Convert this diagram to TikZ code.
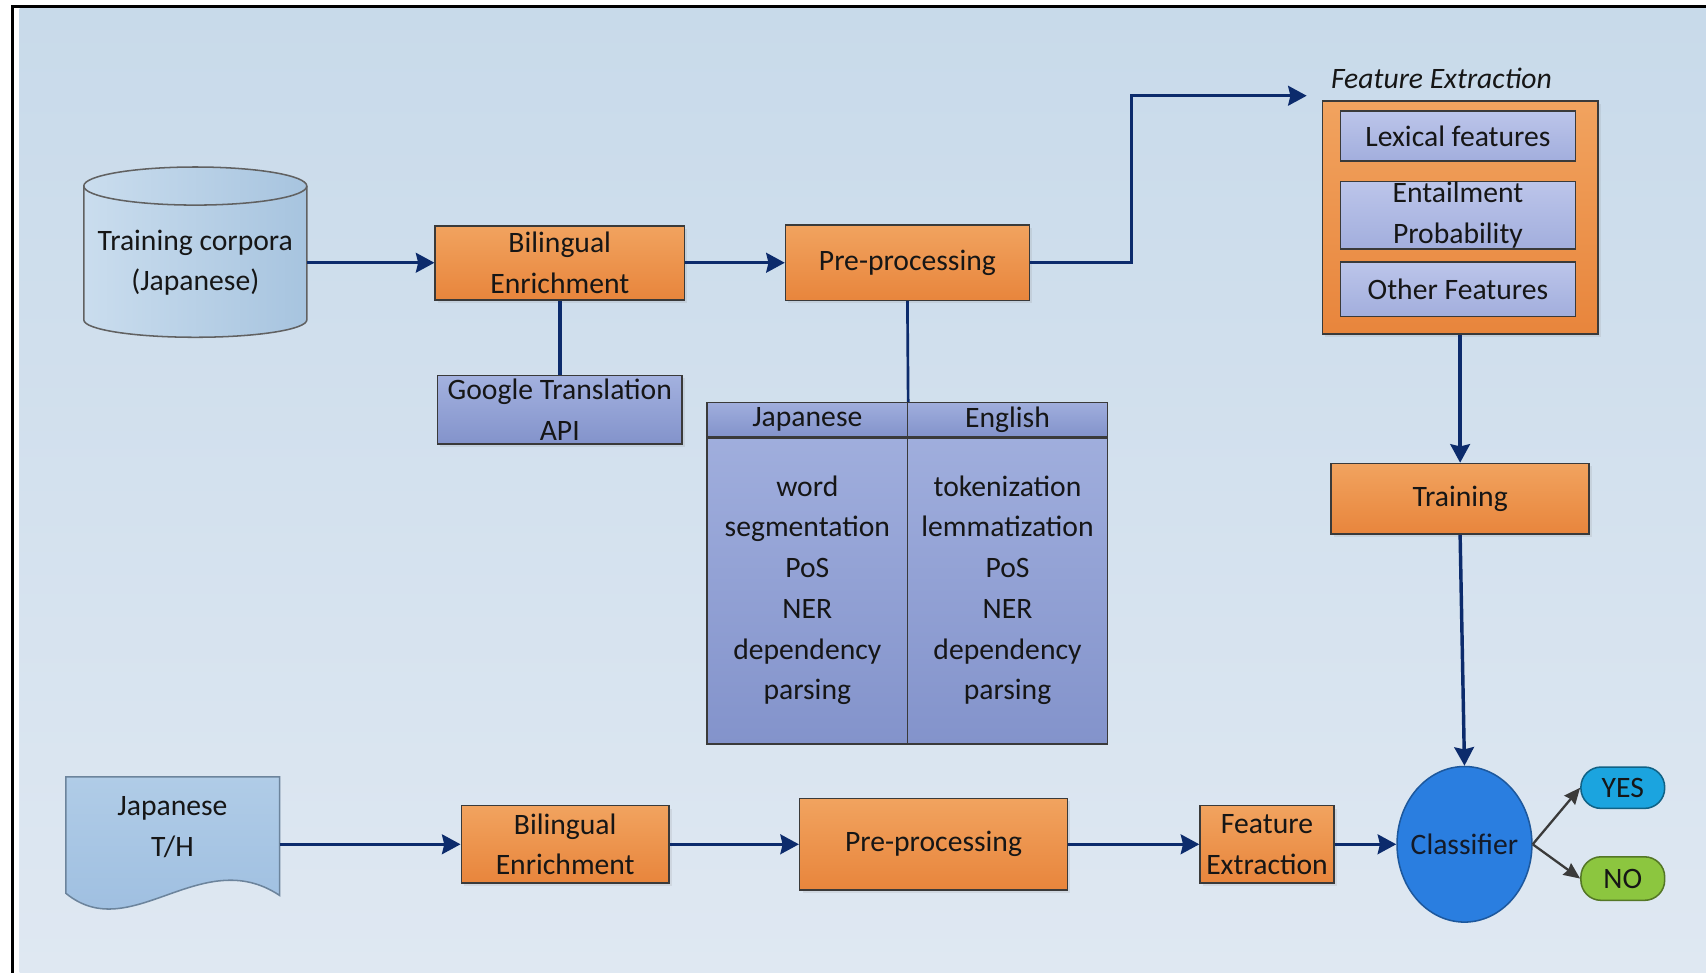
\documentclass[tikz,border=0pt]{standalone}
\usepackage{fontspec}
\setmainfont{Carlito}
\usetikzlibrary{arrows.meta,shapes.geometric,shadows}

\definecolor{bgtop}{HTML}{C8DAEA}
\definecolor{bgbot}{HTML}{DFE8F2}
\definecolor{ink}{HTML}{161616}
\definecolor{edge}{HTML}{3A3A3A}
\definecolor{navy}{HTML}{0C2B6C}
\definecolor{orgtop}{HTML}{F1A35F}
\definecolor{orgbot}{HTML}{E8853C}
\definecolor{liltop}{HTML}{A3B1DF}
\definecolor{lilbot}{HTML}{8393CB}
\definecolor{paletop}{HTML}{BCC5EA}
\definecolor{palebot}{HTML}{A2AEDD}
\definecolor{cylleft}{HTML}{CADDEE}
\definecolor{cylright}{HTML}{A7C4DF}
\definecolor{doctop}{HTML}{B0CCE7}
\definecolor{docbot}{HTML}{9BBCDF}
\definecolor{clsfill}{HTML}{2A7EE0}
\definecolor{yesfill}{HTML}{1BA4DF}
\definecolor{nofill}{HTML}{8CC63F}

\begin{document}
\begin{tikzpicture}[font=\fontsize{15.5}{21.3}\selectfont,text=ink,
  procbox/.style={draw=edge,line width=0.8pt,top color=orgtop,bottom color=orgbot,align=center,inner sep=0pt,
    drop shadow={shadow xshift=1.5pt,shadow yshift=-1.5pt,opacity=0.15}},
  toolbox/.style={draw=edge,line width=0.8pt,top color=liltop,bottom color=lilbot,align=center,inner sep=0pt,
    drop shadow={shadow xshift=1.5pt,shadow yshift=-1.5pt,opacity=0.15}},
  featbox/.style={draw=edge,line width=0.8pt,top color=paletop,bottom color=palebot,align=center,inner sep=0pt,minimum width=4.32cm},
  cellbox/.style={draw=edge,line width=0.8pt,top color=liltop!90!lilbot,bottom color=lilbot,align=center,inner sep=0pt,minimum width=3.68cm},
  pill/.style={draw=#1!60!black,line width=0.8pt,fill=#1,rounded corners=0.37cm,minimum width=1.54cm,inner sep=0pt},
  link/.style={draw=navy,line width=1.8pt},
  arr/.style={link,-{Stealth[length=0.34cm,width=0.36cm,inset=0.04cm]}},
  outarr/.style={draw=edge,line width=1.2pt,-{Stealth[length=0.3cm,width=0.26cm,inset=0.03cm]}}]
  \useasboundingbox (0,0) rectangle (31.36,-17.88);
  \fill[white] (0,0) rectangle (31.36,-17.88);
  \shade[top color=bgtop,bottom color=bgbot] (0.36,-0.15) rectangle (31.36,-17.88);
  \draw[line width=1.2pt] (0.23,-17.88) -- (0.23,-0.12) -- (31.36,-0.12);

  \path[draw=edge!80,line width=0.8pt,left color=cylleft,right color=cylright] (1.54,-3.42) arc[start angle=180,end angle=0,x radius=2.05,y radius=0.35] -- (5.64,-5.88) arc[start angle=0,end angle=-180,x radius=2.05,y radius=0.32] -- cycle;
  \draw[edge!80,line width=0.8pt] (1.54,-3.42) arc[start angle=180,end angle=360,x radius=2.05,y radius=0.35];
  \node[minimum width=4.10cm,align=center,inner sep=0pt] (corpus) at (3.59,-4.83) {Training corpora\\(Japanese)};

  \node[procbox,minimum width=4.58cm,minimum height=1.36cm] (bil) at (10.29,-4.83) {Bilingual\\Enrichment};
  \node[toolbox,minimum width=4.50cm,minimum height=1.26cm] (gta) at (10.29,-7.53) {Google Translation\\API};
  \node[procbox,minimum width=4.48cm,minimum height=1.38cm] (pre) at (16.68,-4.83) {Pre-processing};

  \node[cellbox,minimum height=0.62cm] (jh) at (14.84,-7.71) {Japanese};
  \node[cellbox,minimum height=0.62cm] (eh) at (18.52,-7.71) {English};
  \node[cellbox,minimum height=5.66cm] (jb) at (14.84,-10.85) {word\\segmentation\\PoS\\NER\\dependency\\parsing};
  \node[cellbox,minimum height=5.66cm] (eb) at (18.52,-10.85) {tokenization\\lemmatization\\PoS\\NER\\dependency\\parsing};
  \draw[edge,line width=1.6pt] (jh.south west) -- (eh.south east);

  \node[anchor=west,font=\fontsize{15.5}{21.3}\selectfont\itshape,inner sep=0pt] (felab) at (24.46,-1.44) {Feature Extraction};
  \node[procbox,minimum width=5.06cm,minimum height=4.28cm] (fe) at (26.84,-4.00) {};
  \node[featbox,minimum height=0.92cm] (lex) at (26.80,-2.50) {Lexical features};
  \node[featbox,minimum height=1.24cm] (ent) at (26.80,-3.96) {Entailment\\Probability};
  \node[featbox,minimum height=1.00cm] (oth) at (26.80,-5.32) {Other Features};
  \coordinate (fein) at (24.02,-1.76);

  \node[procbox,minimum width=4.74cm,minimum height=1.30cm] (train) at (26.84,-9.17) {Training};
  \node[ellipse,draw=clsfill!70!black,line width=0.8pt,fill=clsfill,minimum width=2.48cm,minimum height=2.86cm,inner sep=0pt,
    label={[text=ink!80!navy]center:Classifier}] (cls) at (26.92,-15.52) {};
  \node[pill=yesfill,minimum height=0.76cm] (yes) at (29.83,-14.48) {YES};
  \node[pill=nofill,minimum height=0.80cm] (no) at (29.83,-16.15) {NO};

  \path[draw=docbot!70!black,line width=0.8pt,top color=doctop,bottom color=docbot] (1.21,-14.28) -- (5.14,-14.28) -- (5.14,-16.46) .. controls (3.70,-15.50) and (2.40,-17.40) .. (1.21,-16.42) -- cycle;
  \node[minimum width=3.93cm,align=center,inner sep=0pt] (doc) at (3.17,-15.21) {Japanese\\T/H};
  \node[procbox,minimum width=3.82cm,minimum height=1.42cm] (bil2) at (10.39,-15.52) {Bilingual\\Enrichment};
  \node[procbox,minimum width=4.92cm,minimum height=1.68cm] (pre2) at (17.16,-15.52) {Pre-processing};
  \node[procbox,minimum width=2.46cm,minimum height=1.42cm] (fe2) at (23.29,-15.52) {Feature\\Extraction};

  \draw[arr] (corpus.east) -- (bil.west);
  \draw[arr] (bil.east) -- (pre.west);
  \draw[link] (bil.south) -- (gta.north);
  \draw[link,line width=1.4pt] (pre.south) -- (jh.north east);
  \draw[arr] (pre.east) -- ++(1.86,0) |- (fein);
  \draw[arr] (fe.south) -- (train.north);
  \draw[arr] (train.south) -- (cls.north);
  \draw[arr] (doc.east |- bil2.west) -- (bil2.west);
  \draw[arr] (bil2.east) -- (pre2.west);
  \draw[arr] (pre2.east) -- (fe2.west);
  \draw[arr] (fe2.east) -- (cls.west);
  \draw[outarr] (cls.east) -- (yes.west);
  \draw[outarr] (cls.east) -- (no.west);
\end{tikzpicture}
\end{document}
